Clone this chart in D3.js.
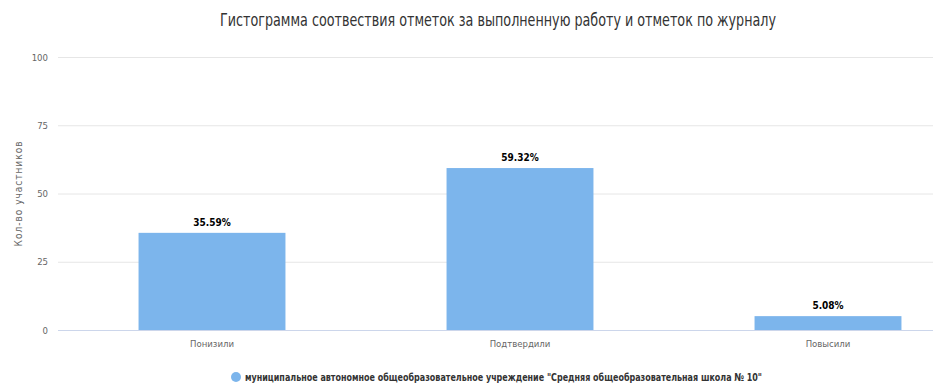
<!DOCTYPE html>
<html><head><meta charset="utf-8">
<script src="https://cdn.jsdelivr.net/npm/d3@7"></script>
<style>body{margin:0;background:#fff}svg{display:block}</style>
</head><body><svg id="c" width="933" height="387"></svg>
<script>
const categories = ["Понизили", "Подтвердили", "Повысили"];
const values = [35.59, 59.32, 5.08];
const yTicks = [0, 25, 50, 75, 100];
const titleText = "Гистограмма соотвествия отметок за выполненную работу и отметок по журналу";
const yTitle = "Кол-во участников";
const seriesName = "муниципальное автономное общеобразовательное учреждение \"Средняя общеобразовательная школа № 10\"";

(function () {
const svg = d3.select("#c");
const font = "'DejaVu Sans Condensed','Liberation Sans Narrow',sans-serif";
const pLeft = 58, pRight = 982, pTop = 57, pBottom = 330;
const x = d3.scaleBand().domain(categories).range([pLeft, pRight]).paddingInner(0.523).paddingOuter(0.2615);
const y = d3.scaleLinear().domain([0, 100]).range([pBottom, pTop]);

svg.append("g").selectAll("line").data(yTicks).join("line")
  .attr("x1", pLeft).attr("x2", 933).attr("y1", d => y(d) + 0.5).attr("y2", d => y(d) + 0.5)
  .attr("stroke", d => d === 0 ? "#ccd6eb" : "#e6e6e6").attr("stroke-width", 1);

const yAxis = d3.axisLeft(y).tickValues(yTicks).tickSize(0).tickPadding(0);
const gy = svg.append("g").attr("transform", `translate(${pLeft - 10},0)`).call(yAxis);
gy.select(".domain").remove();
gy.selectAll("text").attr("font-family", font).attr("font-size", 9.5).attr("fill", "#666");

svg.append("text").attr("transform", `translate(22,${(pTop + pBottom) / 2}) rotate(-90)`)
  .attr("text-anchor", "middle").attr("font-family", font).attr("font-size", 10)
  .attr("fill", "#666").attr("letter-spacing", 1).text(yTitle);

svg.append("g").selectAll("rect").data(values).join("rect")
  .attr("x", (d, i) => x(categories[i])).attr("width", x.bandwidth())
  .attr("y", d => y(d)).attr("height", d => y(0) - y(d)).attr("fill", "#7cb5ec");

svg.append("g").selectAll("text").data(values).join("text")
  .attr("x", (d, i) => x(categories[i]) + x.bandwidth() / 2).attr("y", d => y(d) - 7)
  .attr("text-anchor", "middle").attr("font-family", font).attr("font-size", 10)
  .attr("font-weight", "bold").attr("fill", "#000").text(d => d.toFixed(2) + "%");

const xAxis = d3.axisBottom(x).tickSize(0).tickPadding(0);
const gx = svg.append("g").attr("transform", `translate(0,${pBottom + 10})`).call(xAxis);
gx.select(".domain").remove();
gx.selectAll("text").attr("font-family", font).attr("font-size", 9.5).attr("fill", "#666").attr("dy", "0.71em");

svg.append("text").attr("x", 498).attr("y", 26).attr("text-anchor", "middle")
  .attr("font-family", font).attr("font-size", 17).attr("fill", "#333")
  .attr("textLength", 556).attr("lengthAdjust", "spacingAndGlyphs").text(titleText);

svg.append("circle").attr("cx", 236).attr("cy", 377).attr("r", 5).attr("fill", "#7cb5ec");
svg.append("text").attr("x", 245).attr("y", 381).attr("font-family", font).attr("font-size", 11)
  .attr("font-weight", "bold").attr("fill", "#333")
  .attr("textLength", 517).attr("lengthAdjust", "spacingAndGlyphs").text(seriesName);
})();
</script></body></html>
